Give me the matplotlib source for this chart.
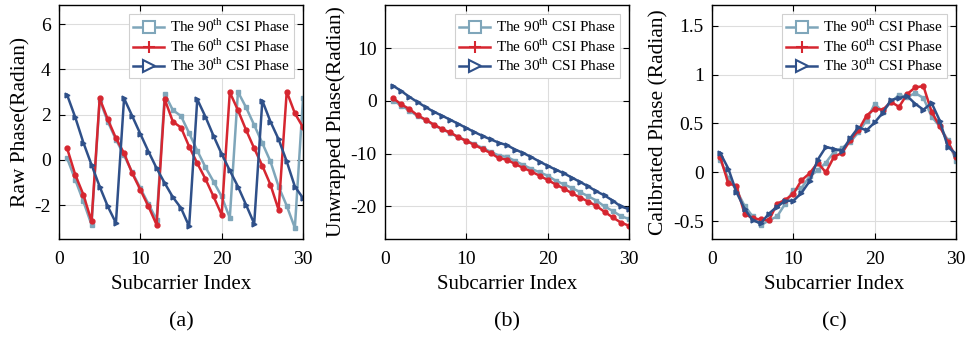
import numpy as np
import matplotlib
matplotlib.use('Agg')
import matplotlib.pyplot as plt
from matplotlib.lines import Line2D

plt.rcParams['font.family'] = ['Liberation Serif', 'DejaVu Serif']
plt.rcParams['mathtext.fontset'] = 'custom'
plt.rcParams['mathtext.rm'] = 'Liberation Serif'
plt.rcParams['axes.unicode_minus'] = False

idx = np.arange(1, 31)

# (a) raw phase
raw_90 = [0.07, -0.88, -1.84, -2.87, 2.65, 1.69, 0.90, 0.20, -0.55, -1.25,
          -1.95, -2.65, 2.91, 2.20, 1.94, 1.18, 0.41, -0.32, -0.96, -1.62,
          -2.57, 3.01, 2.32, 1.54, 0.74, -0.07, -1.18, -2.03, -3.01, 2.72]
raw_60 = [0.51, -0.66, -1.54, -2.72, 2.72, 1.79, 0.96, 0.29, -0.59, -1.32,
          -2.06, -2.87, 2.68, 1.69, 1.43, 0.59, -0.15, -0.84, -1.62, -2.43,
          2.99, 2.20, 1.32, 0.51, -0.26, -1.10, -2.21, 3.02, 2.06, 1.44]
raw_30 = [2.87, 1.88, 0.76, -0.22, -1.18, -2.06, -2.79, 2.72, 1.94, 1.15,
          0.37, -0.37, -1.03, -1.65, -2.13, -2.94, 2.68, 1.91, 1.06, 0.26,
          -0.47, -1.18, -1.99, -2.82, 2.62, 1.69, 0.91, -0.07, -1.18, -1.69]

# (b) unwrapped phase
unw_90 = [0.07, -0.88, -1.84, -2.87, -3.63, -4.59, -5.38, -6.08, -6.83, -7.53,
          -8.23, -8.93, -9.66, -10.37, -10.63, -11.39, -12.16, -12.89, -13.53, -14.19,
          -15.14, -15.84, -16.53, -17.31, -18.11, -18.92, -20.03, -20.88, -21.86, -22.41]
unw_60 = [0.51, -0.66, -1.54, -2.72, -3.56, -4.49, -5.32, -5.99, -6.87, -7.60,
          -8.34, -9.15, -9.89, -10.88, -11.14, -11.98, -12.72, -13.41, -14.19, -15.00,
          -15.86, -16.65, -17.53, -18.34, -19.11, -19.95, -21.06, -22.11, -23.07, -23.69]
unw_30 = [2.87, 1.88, 0.76, -0.22, -1.18, -2.06, -2.79, -3.56, -4.34, -5.13,
          -5.91, -6.65, -7.31, -7.93, -8.41, -9.22, -9.89, -10.66, -11.51, -12.31,
          -13.04, -13.75, -14.56, -15.39, -16.23, -17.16, -17.94, -18.92, -20.03, -20.54]

# (c) calibrated phase
cal_90 = [0.13, -0.06, -0.18, -0.34, -0.45, -0.54, -0.49, -0.45, -0.32, -0.18,
          -0.16, -0.04, 0.02, 0.10, 0.21, 0.25, 0.31, 0.41, 0.53, 0.70,
          0.62, 0.72, 0.79, 0.77, 0.81, 0.76, 0.57, 0.47, 0.33, 0.12]
cal_60 = [0.16, -0.11, -0.14, -0.42, -0.47, -0.48, -0.49, -0.32, -0.28, -0.22,
          -0.08, -0.01, 0.10, 0.00, 0.16, 0.20, 0.33, 0.43, 0.58, 0.65,
          0.64, 0.72, 0.67, 0.80, 0.87, 0.88, 0.62, 0.47, 0.31, 0.16]
cal_30 = [0.20, 0.04, -0.20, -0.37, -0.49, -0.52, -0.42, -0.35, -0.29, -0.29,
          -0.21, -0.09, 0.13, 0.26, 0.24, 0.22, 0.35, 0.46, 0.43, 0.51,
          0.61, 0.74, 0.76, 0.78, 0.70, 0.64, 0.71, 0.53, 0.26, 0.19]

labels = [r'The 90$^{\mathrm{th}}$ CSI Phase',
          r'The 60$^{\mathrm{th}}$ CSI Phase',
          r'The 30$^{\mathrm{th}}$ CSI Phase']
colors = ['#7FA6BA', '#D62630', '#2F5089']
markers = ['s', 'o', '>']
leg_markers = ['s', '+', '>']

panels = [
    ([raw_90, raw_60, raw_30], 'Raw Phase(Radian)', (-3.5, 6.85), [-2, 0, 2, 4, 6], ['-2', '0', '2', '4', '6'], '(a)'),
    ([unw_90, unw_60, unw_30], 'Unwrapped Phase(Radian)', (-26.2, 18.2), [-20, -10, 0, 10], ['-20', '-10', '0', '10'], '(b)'),
    ([cal_90, cal_60, cal_30], 'Calibrated Phase (Radian)', (-0.68, 1.71), [-0.5, 0, 0.5, 1, 1.5], ['-0.5', '0', '0.5', '1', '1.5'], '(c)'),
]
lefts = [59, 385, 712]

fig = plt.figure(figsize=(9.65, 3.39), dpi=100)
for (series, ylab, ylim, yt, ytl, tag), left in zip(panels, lefts):
    ax = fig.add_axes([left / 965, 100 / 339, 244 / 965, 234 / 339])
    for s, c, m in zip(series, colors, markers):
        ax.plot(idx, s, color=c, lw=1.8, marker=m, ms=3.5, mfc=c, mec=c)
    ax.set_xlim(0, 30)
    ax.set_ylim(*ylim)
    ax.set_xticks([0, 10, 20, 30])
    ax.set_yticks(yt)
    ax.set_yticklabels(ytl)
    ax.tick_params(direction='in', top=True, right=True, labelsize=14, length=4, pad=6)
    ax.tick_params(axis='x', pad=9)
    ax.grid(True, color='#DDDDDD', lw=0.8)
    ax.set_axisbelow(True)
    for sp in ax.spines.values():
        sp.set_linewidth(1.0)
    ax.set_xlabel('Subcarrier Index', fontsize=15, labelpad=5)
    ax.set_ylabel(ylab, fontsize=15.5, labelpad=3)
    handles = [Line2D([], [], color=c, lw=1.8, marker=m, ms=8, mfc='white' if m != '+' else c,
                      mec=c, mew=1.5)
               for c, m in zip(colors, leg_markers)]
    leg = ax.legend(handles, labels, loc='upper right', fontsize=11, frameon=True,
                    fancybox=False, edgecolor='#D0D0D0', framealpha=1,
                    handlelength=2.0, handletextpad=0.4, borderpad=0.25,
                    labelspacing=0.15, borderaxespad=0.6)
    leg.get_frame().set_linewidth(0.8)
    fig.text((left + 122) / 965, 1 - 322 / 339, tag, ha='center', va='center', fontsize=16)

fig.savefig('out.png', dpi=100)
